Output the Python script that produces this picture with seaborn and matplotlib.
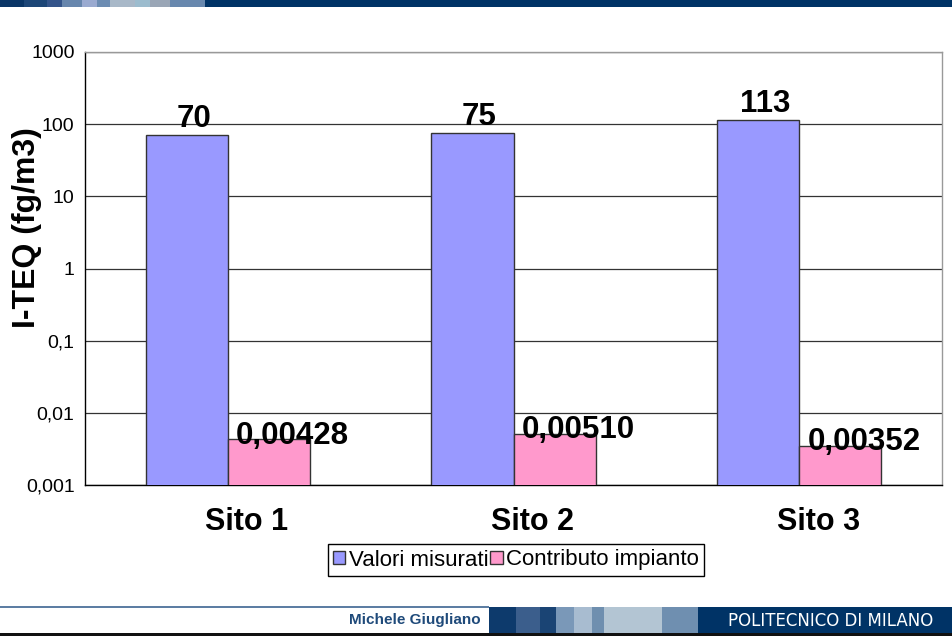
import numpy as np
import pandas as pd
import matplotlib
matplotlib.use('Agg')
import matplotlib.pyplot as plt
import seaborn as sns
from matplotlib.patches import Rectangle
from matplotlib.ticker import FixedLocator, NullLocator, FuncFormatter
from matplotlib.transforms import ScaledTranslation

# dati
siti = ['Sito 1', 'Sito 2', 'Sito 3']
valori_misurati = [70, 75, 113]
contributo_impianto = [0.00428, 0.00510, 0.00352]
serie = ['Valori misurati', 'Contributo impianto']
tick_y = [0.001, 0.01, 0.1, 1, 10, 100, 1000]

colori = ['#9999FF', '#FF99CC']
W, H = 952, 641

sns.set_style('white')
plt.rcParams['font.family'] = ['Liberation Sans', 'DejaVu Sans']
plt.rcParams['text.color'] = 'black'
plt.rcParams['axes.labelcolor'] = 'black'
plt.rcParams['xtick.color'] = 'black'
plt.rcParams['ytick.color'] = 'black'

df = pd.DataFrame({
    'sito': siti * 2,
    'valore': valori_misurati + contributo_impianto,
    'serie': [serie[0]] * 3 + [serie[1]] * 3,
})

fig = plt.figure(figsize=(W / 100, H / 100), dpi=100)
ax = fig.add_axes([85 / W, 156 / H, 857 / W, 433 / H])


def px_rect(x0, y0, x1, y1, color):
    # rettangolo in pixel (origine in alto a sinistra)
    fig.add_artist(Rectangle((x0 / W, 1 - y1 / H), (x1 - x0) / W, (y1 - y0) / H,
                             transform=fig.transFigure, facecolor=color,
                             edgecolor='none', zorder=0))


# barra superiore
px_rect(0, 0, W, 7, '#003366')
header = [(0, 24, '#0a3566'), (24, 47, '#1d4677'), (47, 62, '#34548a'),
          (62, 82, '#6786ad'), (82, 97, '#9aaad0'), (97, 110, '#6c8cb2'),
          (110, 135, '#a8b8c8'), (135, 150, '#9cbcce'), (150, 170, '#9aa6b6'),
          (170, 205, '#6888ae')]
for x0, x1, c in header:
    px_rect(x0, 0, x1, 7, c)

# piè di pagina
px_rect(0, 606, 489, 608, '#5d7ea3')
px_rect(489, 607, W, 633, '#003366')
footer = [(489, 516, '#0d3a6c'), (516, 540, '#3b5e8c'), (540, 556, '#1a4474'),
          (556, 574, '#7a98b8'), (574, 592, '#a8bcd0'), (592, 604, '#6f8faf'),
          (604, 662, '#b3c5d3'), (662, 698, '#6f8fb0')]
for x0, x1, c in footer:
    px_rect(x0, 607, x1, 633, c)
px_rect(0, 633, W, 636, '#111111')
fig.text(481 / W, 1 - 620 / H, 'Michele Giugliano', ha='right', va='center',
         fontsize=11, fontweight='bold', color='#1f4a7a')
fig.text(831 / W, 1 - 621 / H, 'POLITECNICO DI MILANO', ha='center', va='center',
         fontsize=12, color='white', family='DejaVu Sans')

sns.barplot(data=df, x='sito', y='valore', hue='serie', hue_order=serie,
            palette=colori, width=0.575, edgecolor='#333333', linewidth=1,
            saturation=1, legend=False, ax=ax, zorder=3)

ax.set_yscale('log')
ax.set_ylim(0.001, 1000)
ax.set_xlim(-0.5, 2.5)
ax.yaxis.set_major_locator(FixedLocator(tick_y))
ax.yaxis.set_minor_locator(NullLocator())
ax.yaxis.set_major_formatter(FuncFormatter(lambda v, _: f'{v:g}'.replace('.', ',')))
ax.set_axisbelow(True)
ax.yaxis.grid(True, color='#333333', linewidth=0.9)
ax.xaxis.grid(False)

ax.tick_params(axis='y', which='major', direction='out', length=4.5, width=1,
               color='black', labelsize=14, pad=3)
ax.set_xticks([0, 1, 2])
ax.set_xticklabels(siti, fontsize=22, fontweight='bold')
ax.set_xticks([-0.5, 0.5, 1.5, 2.5], minor=True)
ax.tick_params(axis='x', which='major', length=0, pad=16)
ax.tick_params(axis='x', which='minor', direction='out', length=4.5, width=1, color='black')
# le etichette di categoria sono spostate a destra come nell'originale
sposta = ScaledTranslation(0.19, 0, fig.dpi_scale_trans)
for lab in ax.get_xticklabels():
    lab.set_transform(lab.get_transform() + sposta)

for s in ['left', 'bottom']:
    ax.spines[s].set_color('black')
    ax.spines[s].set_linewidth(1)
for s in ['top', 'right']:
    ax.spines[s].set_color('#999999')
    ax.spines[s].set_linewidth(1)

ax.set_xlabel('')
ax.set_ylabel('I-TEQ (fg/m3)', fontsize=23, fontweight='bold')
ax.yaxis.set_label_coords(-0.05, 0.594)

# etichette dei valori
offsets = [(5, 6), (17, -3)]
for cont, (dx, dy) in zip(ax.containers, offsets):
    for bar in cont:
        v = bar.get_height()
        testo = f'{v:g}' if v >= 1 else f'{v:.5f}'.replace('.', ',')
        ax.annotate(testo, xy=(bar.get_x() + bar.get_width() / 2, v),
                    xytext=(dx, dy), textcoords='offset points',
                    ha='center', va='baseline', fontsize=22.5, fontweight='bold',
                    zorder=5)

handles = [Rectangle((0, 0), 1, 1, facecolor=c, edgecolor='#333333', linewidth=1)
           for c in colori]
leg = fig.legend(handles, serie, loc='center', bbox_to_anchor=(516 / W, 1 - 560 / H),
                 bbox_transform=fig.transFigure, ncol=2, fontsize=16, frameon=True,
                 fancybox=False, framealpha=1, edgecolor='black', borderpad=0.25,
                 handlelength=0.55, handleheight=0.55, handletextpad=0.15,
                 columnspacing=0.1, borderaxespad=0)
leg.get_frame().set_linewidth(1)

fig.savefig('out.png', dpi=100)
